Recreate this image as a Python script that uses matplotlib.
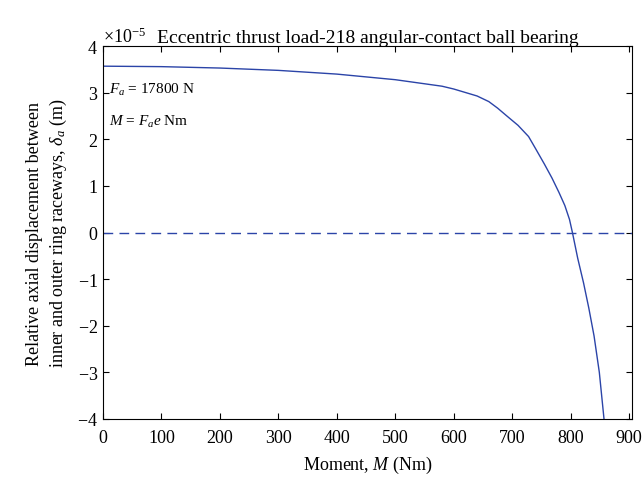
import matplotlib.pyplot as plt
import numpy as np

plt.rcParams['font.family'] = 'Liberation Serif'
plt.rcParams['mathtext.fontset'] = 'custom'
plt.rcParams['mathtext.rm'] = 'Liberation Serif'
plt.rcParams['mathtext.it'] = 'Liberation Serif:italic'
plt.rcParams['font.size'] = 13

# Moment (Nm) vs relative axial displacement (x1e-5 m)
moment = [0, 100, 200, 300, 400, 500, 580, 600, 640, 660, 675, 690, 710,
          728, 740, 755, 768, 780, 790, 798, 803, 812, 822, 831, 840, 849, 857]
delta_e5 = [3.57, 3.56, 3.53, 3.48, 3.40, 3.28, 3.14, 3.08, 2.93, 2.81,
            2.67, 2.51, 2.30, 2.06, 1.80, 1.47, 1.17, 0.86, 0.58, 0.28,
            0.0, -0.55, -1.08, -1.62, -2.22, -3.0, -4.0]

line_color = '#2b44a8'

fig = plt.figure(figsize=(6.43, 4.81), dpi=100)
ax = fig.add_axes([0.160, 0.127, 0.823, 0.775])

ax.plot(moment, np.array(delta_e5) * 1e-5, color=line_color, linewidth=1.0)
ax.axhline(0, color=line_color, linestyle=(0, (7, 4.5)), linewidth=1.0)

ax.set_xlim(0, 905)
ax.set_ylim(-4e-5, 4e-5)
ax.set_xticks(np.arange(0, 901, 100))
ax.set_yticks(np.arange(-4, 5, 1) * 1e-5)
ax.ticklabel_format(axis='y', style='sci', scilimits=(0, 0), useMathText=True)
ax.tick_params(direction='in', top=True, right=True, length=4, labelsize=13)
ax.tick_params(axis='x', pad=7)
ax.yaxis.get_offset_text().set_fontsize(13)

ax.set_title('Eccentric thrust load-218 angular-contact ball bearing',
             fontsize=14, pad=3)
ax.set_xlabel('Moment, $M$ (Nm)', fontsize=13, labelpad=6)
ax.set_ylabel('Relative axial displacement between\n'
              'inner and outer ring raceways, $\\delta_a$ (m)', fontsize=13,
              linespacing=1.3, labelpad=6)

ax.text(0.012, 0.885, '$F_a$ = 17800 N', transform=ax.transAxes, fontsize=11,
        va='center')
ax.text(0.012, 0.80, '$M$ = $F_a e$ Nm', transform=ax.transAxes, fontsize=11,
        va='center')

plt.savefig('out.png', dpi=100)
